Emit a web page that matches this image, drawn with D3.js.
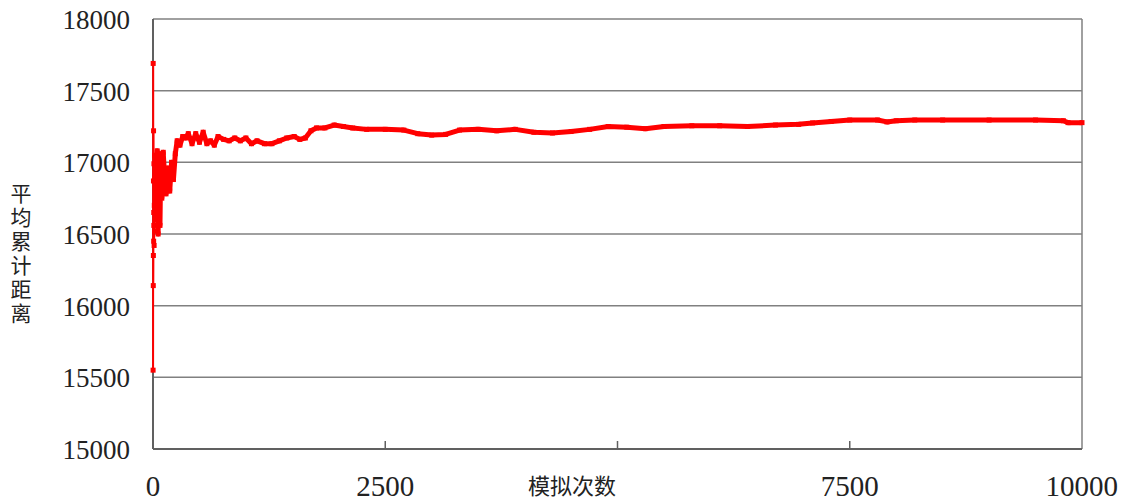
<!DOCTYPE html>
<html>
<head>
<meta charset="utf-8">
<script src="https://cdn.jsdelivr.net/npm/d3@7.9.0/dist/d3.min.js"></script>
<style>
  body { margin: 0; background: #fff; }
  svg { display: block; }
</style>
</head>
<body>
<svg width="1128" height="504"></svg>
<script>
// simulation count and running average of cumulative distance
const trials = [1, 2, 3, 4, 5, 6, 7, 8, 9, 10, 12, 14, 16, 18, 20,
  25, 35, 45, 55, 65, 75, 85, 95, 110, 125, 140, 160, 180, 200, 220, 240, 260, 290, 320, 350,
  380, 420, 460, 500, 540, 580, 620, 660, 700, 760, 820, 880, 940, 1000, 1060, 1120, 1200,
  1280, 1360, 1440, 1520, 1580, 1640, 1700, 1760, 1850, 1950, 2050, 2150, 2300, 2500, 2700,
  2850, 3000, 3150, 3300, 3500, 3700, 3900, 4100, 4300, 4500, 4700, 4900, 5100, 5300, 5500,
  5800, 6100, 6400, 6700, 6950, 7100, 7300, 7500, 7800, 7900, 8000, 8200, 8500, 9000, 9500,
  9800, 9850, 10000];
const avgDistance = [15550, 17690, 16140, 16350, 16870, 17220, 16450, 16650, 16560, 16990, 16420, 16700, 17050, 16520, 16880,
  16950, 16600, 17080, 16500, 16900, 16560, 17060, 16750, 17070, 16900, 16780, 16960, 16800, 17000, 16880, 17060, 17150, 17120, 17180, 17170,
  17200, 17130, 17200, 17140, 17210, 17130, 17150, 17120, 17180, 17160, 17150, 17170, 17150, 17170, 17130, 17150, 17130,
  17130, 17150, 17170, 17180, 17160, 17170, 17220, 17240, 17240, 17260, 17250, 17240, 17230, 17230, 17225,
  17200, 17190, 17195, 17225, 17230, 17220, 17230, 17210, 17205, 17215, 17230, 17250, 17245, 17235, 17250,
  17255, 17255, 17250, 17260, 17265, 17275, 17285, 17295, 17295, 17282, 17290, 17295, 17295, 17295, 17295,
  17290, 17277, 17277];
const yTicks = [15000, 15500, 16000, 16500, 17000, 17500, 18000];
const xTickLabels = [0, 2500, 7500, 10000];
const xTickMarks = [2500, 5000, 7500];
const xTitle = '模拟次数';
const yTitle = '平均累计距离';

const data = trials.map((n, i) => ({ n, v: avgDistance[i] }));

const svg = d3.select('svg');
const plotL = 153, plotR = 1082, plotT = 19, plotB = 449;
const numFont = "'Liberation Serif', 'DejaVu Serif', serif";

const x = d3.scaleLinear().domain([0, 10000]).range([plotL, plotR]);
const y = d3.scaleLinear().domain([15000, 18000]).range([plotB, plotT]);

// horizontal gridlines
svg.append('g')
  .selectAll('line')
  .data(yTicks)
  .join('line')
  .attr('x1', plotL).attr('x2', plotR)
  .attr('y1', d => y(d)).attr('y2', d => y(d))
  .attr('stroke', '#808080')
  .attr('stroke-width', 1.5);

// right border
svg.append('line')
  .attr('x1', plotR).attr('x2', plotR).attr('y1', plotT).attr('y2', plotB)
  .attr('stroke', '#808080').attr('stroke-width', 1.5);

// x ticks (inward)
svg.append('g')
  .selectAll('line')
  .data(xTickMarks)
  .join('line')
  .attr('x1', d => x(d)).attr('x2', d => x(d))
  .attr('y1', plotB).attr('y2', plotB - 8)
  .attr('stroke', '#606060').attr('stroke-width', 1.5);

// axis spines
svg.append('line')
  .attr('x1', plotL).attr('x2', plotL).attr('y1', plotT).attr('y2', plotB)
  .attr('stroke', '#606060').attr('stroke-width', 2);
svg.append('line')
  .attr('x1', plotL).attr('x2', plotR).attr('y1', plotB).attr('y2', plotB)
  .attr('stroke', '#606060').attr('stroke-width', 2);

// y tick labels
svg.append('g')
  .selectAll('text')
  .data(yTicks)
  .join('text')
  .attr('x', 130)
  .attr('y', d => y(d) + 10)
  .attr('text-anchor', 'end')
  .attr('font-family', numFont)
  .attr('font-size', 27)
  .attr('fill', '#222')
  .text(d => d);

// x tick labels
svg.append('g')
  .selectAll('text')
  .data(xTickLabels)
  .join('text')
  .attr('x', d => d === 10000 ? 1118 : x(d))
  .attr('y', 496)
  .attr('text-anchor', d => d === 10000 ? 'end' : 'middle')
  .attr('font-family', numFont)
  .attr('font-size', 29)
  .attr('fill', '#222')
  .text(d => d);

// axis titles
svg.append('text')
  .attr('x', 572).attr('y', 494)
  .attr('text-anchor', 'middle')
  .attr('font-family', 'Noto Sans CJK SC')
  .attr('font-size', 22)
  .attr('fill', '#222')
  .text(xTitle);

svg.append('text')
  .attr('x', 21).attr('y', 183)
  .attr('font-family', 'Noto Sans CJK SC')
  .attr('font-size', 21)
  .attr('letter-spacing', 3)
  .style('writing-mode', 'vertical-rl')
  .attr('fill', '#222')
  .text(yTitle);

// series
const line = d3.line().x(d => x(d.n)).y(d => y(d.v));

svg.append('path')
  .datum(data)
  .attr('d', line)
  .attr('fill', 'none')
  .attr('stroke', '#ff0000')
  .attr('stroke-width', 2);

svg.append('path')
  .datum(data.filter(d => d.n >= 20))
  .attr('d', line)
  .attr('fill', 'none')
  .attr('stroke', '#ff0000')
  .attr('stroke-width', 5)
  .attr('stroke-linejoin', 'round');

svg.append('g')
  .selectAll('rect')
  .data(data)
  .join('rect')
  .attr('x', d => x(d.n) - 2.5)
  .attr('y', d => y(d.v) - 2.5)
  .attr('width', 5).attr('height', 5)
  .attr('fill', '#ff0000');
</script>
</body>
</html>
